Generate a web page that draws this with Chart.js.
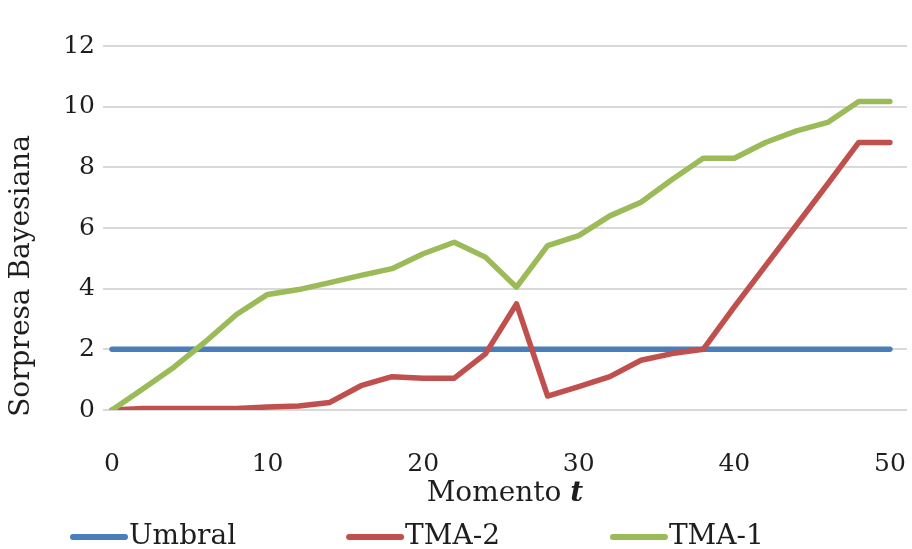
<!DOCTYPE html>
<html>
<head>
<meta charset="utf-8">
<script src="https://cdn.jsdelivr.net/npm/chart.js@4.4.1/dist/chart.umd.min.js"></script>
<style>
  html, body { margin: 0; padding: 0; background: #ffffff; }
  #wrap { width: 912px; height: 549px; position: relative; }
</style>
</head>
<body>
<div id="wrap"><canvas id="chart" width="912" height="549"></canvas></div>
<script>
// Time steps (Momento t)
const moments = [0, 2, 4, 6, 8, 10, 12, 14, 16, 18, 20, 22, 24, 26, 28, 30, 32, 34, 36, 38, 40, 42, 44, 46, 48, 50];
// Threshold line
const umbral = [2, 2, 2, 2, 2, 2, 2, 2, 2, 2, 2, 2, 2, 2, 2, 2, 2, 2, 2, 2, 2, 2, 2, 2, 2, 2];
// Bayesian surprise, TMA-2
const tma2 = [0, 0.05, 0.05, 0.05, 0.05, 0.1, 0.13, 0.25, 0.8, 1.1, 1.05, 1.05, 1.85, 3.5, 0.46, 0.77, 1.1, 1.64, 1.86, 2.0, 3.4, 4.75, 6.1, 7.45, 8.82, 8.82];
// Bayesian surprise, TMA-1
const tma1 = [0, 0.7, 1.42, 2.25, 3.15, 3.81, 3.97, 4.2, 4.44, 4.66, 5.15, 5.53, 5.04, 4.05, 5.42, 5.75, 6.4, 6.85, 7.6, 8.3, 8.3, 8.82, 9.2, 9.48, 10.17, 10.17];
// Axis ticks
const xTicks = [0, 10, 20, 30, 40, 50];
const yTicks = [0, 2, 4, 6, 8, 10, 12];

const serif = '"DejaVu Serif", "Liberation Serif", serif';
const ink = '#1e1e1e';

const pts = (ys) => moments.map((t, i) => ({ x: t, y: ys[i] }));

// Axis titles (the bottom one has an italic-bold variable) and the legend row
const annotations = {
  id: 'annotations',
  afterDraw(chart) {
    const ctx = chart.ctx;
    ctx.save();
    ctx.fillStyle = ink;
    ctx.textBaseline = 'middle';

    // y-axis title
    ctx.save();
    ctx.translate(22, 276);
    ctx.rotate(-Math.PI / 2);
    ctx.textAlign = 'center';
    ctx.font = '28px ' + serif;
    ctx.fillText('Sorpresa Bayesiana', 0, 0);
    ctx.restore();

    // x-axis title: "Momento t"
    ctx.textAlign = 'left';
    const cx = chart.scales.x.getPixelForValue(25);
    const word = 'Momento ';
    ctx.font = '28px ' + serif;
    const w1 = ctx.measureText(word).width;
    ctx.font = 'italic bold 28px ' + serif;
    const w2 = ctx.measureText('t').width;
    const x0 = cx - (w1 + w2) / 2 + 4;
    const ty = 494;
    ctx.font = '28px ' + serif;
    ctx.fillText(word, x0, ty);
    ctx.font = 'italic bold 28px ' + serif;
    ctx.fillText('t', x0 + w1, ty);

    // legend
    const ly = 537;
    let lx = 70;
    ctx.font = '28px ' + serif;
    chart.data.datasets.forEach((ds) => {
      ctx.strokeStyle = ds.borderColor;
      ctx.lineWidth = 6;
      ctx.lineCap = 'round';
      ctx.beginPath();
      ctx.moveTo(lx + 3, ly);
      ctx.lineTo(lx + 55, ly);
      ctx.stroke();
      ctx.fillText(ds.label, lx + 59, ly);
      lx += 59 + ctx.measureText(ds.label).width + 110;
    });
    ctx.restore();
  }
};

new Chart(document.getElementById('chart'), {
  type: 'line',
  data: {
    datasets: [
      { label: 'Umbral', data: pts(umbral), borderColor: '#4a7ebb', order: 3 },
      { label: 'TMA-2', data: pts(tma2), borderColor: '#c0504d', order: 2 },
      { label: 'TMA-1', data: pts(tma1), borderColor: '#9bbb59', order: 1 }
    ]
  },
  options: {
    responsive: false,
    animation: false,
    layout: { padding: { left: 0, right: 5, top: 46, bottom: 0 } },
    elements: {
      line: { borderWidth: 5.5, tension: 0, borderCapStyle: 'round', borderJoinStyle: 'round', fill: false },
      point: { radius: 0, hoverRadius: 0 }
    },
    plugins: { legend: { display: false }, tooltip: { enabled: false } },
    scales: {
      x: {
        type: 'linear',
        min: -0.58,
        max: 51.1,
        afterBuildTicks(scale) { scale.ticks = xTicks.map(v => ({ value: v })); },
        afterFit(scale) { scale.height = 139; scale.paddingLeft = 0; scale.paddingRight = 0; },
        grid: { display: false, drawTicks: false },
        border: { display: false },
        ticks: { padding: 39, color: ink, font: { family: serif, size: 25 }, maxRotation: 0 }
      },
      y: {
        min: 0,
        max: 12,
        afterBuildTicks(scale) { scale.ticks = yTicks.map(v => ({ value: v })); },
        afterFit(scale) { scale.width = 103; },
        grid: { color: '#d9d9d9', lineWidth: 2, drawTicks: false },
        border: { display: false },
        ticks: { padding: 8, color: ink, font: { family: serif, size: 25 } }
      }
    }
  },
  plugins: [annotations]
});
</script>
</body>
</html>
